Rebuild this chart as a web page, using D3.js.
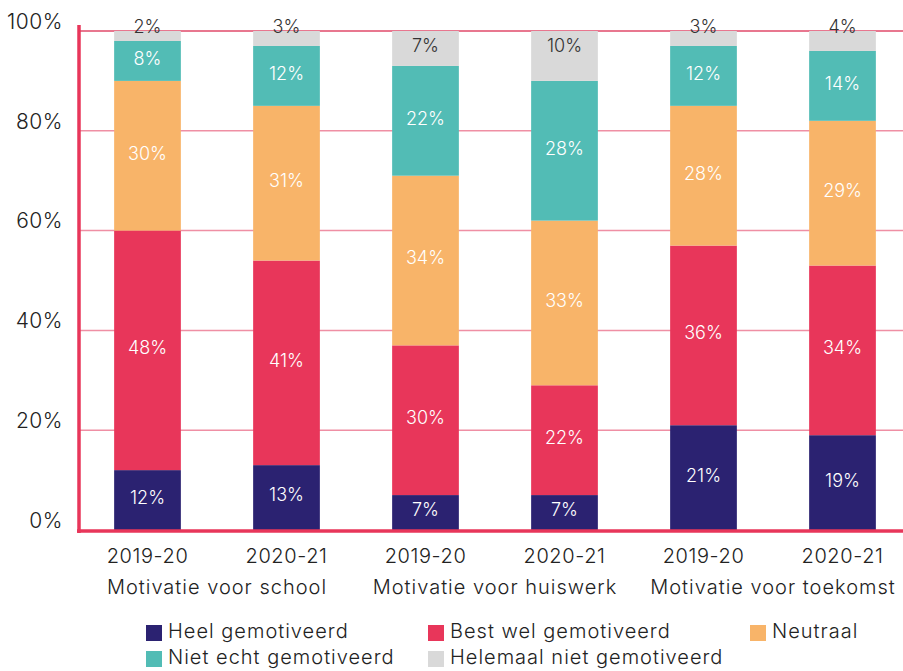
<!DOCTYPE html>
<html>
<head>
<meta charset="utf-8">
<script src="https://cdn.jsdelivr.net/npm/d3@7"></script>
<style>
  html, body { margin: 0; padding: 0; background: #fff; }
  svg { display: block; font-family: Inter, "Noto Sans", sans-serif; }
</style>
</head>
<body>
<svg id="chart" width="903" height="671"></svg>
<script>
// Stacked shares (%) per survey year, grouped by motivation topic
const years = ["2019-20", "2020-21", "2019-20", "2020-21", "2019-20", "2020-21"];
const groups = ["Motivatie voor school", "Motivatie voor huiswerk", "Motivatie voor toekomst"];
const seriesNames = ["Heel gemotiveerd", "Best wel gemotiveerd", "Neutraal", "Niet echt gemotiveerd", "Helemaal niet gemotiveerd"];
const heel      = [12, 13, 7, 7, 21, 19];
const bestWel   = [48, 41, 30, 22, 36, 34];
const neutraal  = [30, 31, 34, 33, 28, 29];
const nietEcht  = [8, 12, 22, 28, 12, 14];
const helemaal  = [2, 3, 7, 10, 3, 4];
const yTicks = [0, 20, 40, 60, 80, 100];

const colors = ["#2b2271", "#e8365a", "#f8b469", "#52bcb5", "#d9d9d9"];
const labelColors = ["#ffffff", "#ffffff", "#ffffff", "#ffffff", "#333333"];

const rows = years.map((y, i) => ({
  key: i, year: y,
  s0: heel[i], s1: bestWel[i], s2: neutraal[i], s3: nietEcht[i], s4: helemaal[i]
}));
const keys = ["s0", "s1", "s2", "s3", "s4"];
const stacked = d3.stack().keys(keys)(rows);

const svg = d3.select("#chart");
const x = d3.scaleBand().domain(rows.map(d => d.key)).range([78, 912])
  .paddingInner(0.52).paddingOuter(0.26);
const y = d3.scaleLinear().domain([0, 100]).range([530, 31]);

// horizontal gridlines
svg.append("g").selectAll("line").data(yTicks.filter(t => t > 0)).join("line")
  .attr("x1", 79).attr("x2", 903)
  .attr("y1", d => y(d)).attr("y2", d => y(d))
  .attr("stroke", d => d === 100 ? "#e04a6a" : "#ef8fa4")
  .attr("stroke-width", 1.5);

// y tick labels
svg.append("g").selectAll("text").data(yTicks).join("text")
  .attr("x", 63).attr("y", d => y(d) - 8)
  .attr("text-anchor", "end").attr("dominant-baseline", "middle")
  .attr("font-size", 21).attr("font-weight", 300).attr("fill", "#222")
  .attr("letter-spacing", 0.5)
  .text(d => d + "%");

// bars
const layer = svg.append("g").selectAll("g").data(stacked).join("g")
  .attr("fill", (d, i) => colors[i]);
layer.selectAll("rect").data(d => d).join("rect")
  .attr("x", d => x(d.data.key))
  .attr("width", x.bandwidth())
  .attr("y", d => y(d[1]))
  .attr("height", d => y(d[0]) - y(d[1]));

// segment value labels
stacked.forEach((s, si) => {
  svg.append("g").selectAll("text").data(s).join("text")
    .attr("x", d => x(d.data.key) + x.bandwidth() / 2)
    .attr("y", d => {
      const top = y(d[1]), bot = y(d[0]);
      if (si === 4) return (bot - top) >= 25 ? top + 16 : top - 3;
      return (top + bot) / 2 - 1;
    })
    .attr("text-anchor", "middle").attr("dominant-baseline", "middle")
    .attr("font-size", 18).attr("font-weight", 300)
    .attr("fill", labelColors[si])
    .text(d => (d[1] - d[0]) + "%");
});

// axes lines
svg.append("line").attr("x1", 79).attr("x2", 79).attr("y1", 25).attr("y2", 533)
  .attr("stroke", "#e8365a").attr("stroke-width", 3.5);
svg.append("line").attr("x1", 77).attr("x2", 903).attr("y1", 531).attr("y2", 531)
  .attr("stroke", "#e8365a").attr("stroke-width", 3.5);

// x labels: years
svg.append("g").selectAll("text").data(rows).join("text")
  .attr("x", d => x(d.key) + x.bandwidth() / 2).attr("y", 558)
  .attr("text-anchor", "middle").attr("dominant-baseline", "middle")
  .attr("font-size", 20).attr("font-weight", 300).attr("fill", "#222")
  .attr("letter-spacing", 0.6)
  .text(d => d.year);

// x labels: groups
svg.append("g").selectAll("text").data(groups).join("text")
  .attr("x", (d, i) => (x(2 * i) + x(2 * i + 1)) / 2 + x.bandwidth() / 2)
  .attr("y", 589)
  .attr("text-anchor", "middle").attr("dominant-baseline", "middle")
  .attr("font-size", 20).attr("font-weight", 300).attr("fill", "#222")
  .attr("letter-spacing", 1)
  .text(d => d);

// legend
const legendPos = [[146, 633], [428, 633], [750, 633], [146, 659], [428, 659]];
const lg = svg.append("g").selectAll("g").data(seriesNames).join("g")
  .attr("transform", (d, i) => `translate(${legendPos[i][0]},${legendPos[i][1]})`);
lg.append("rect").attr("x", 0).attr("y", -8).attr("width", 16).attr("height", 16)
  .attr("fill", (d, i) => colors[i]);
lg.append("text").attr("x", 22).attr("y", 0)
  .attr("dominant-baseline", "middle")
  .attr("font-size", 20).attr("font-weight", 300).attr("fill", "#222")
  .attr("letter-spacing", 1)
  .text(d => d);
</script>
</body>
</html>
